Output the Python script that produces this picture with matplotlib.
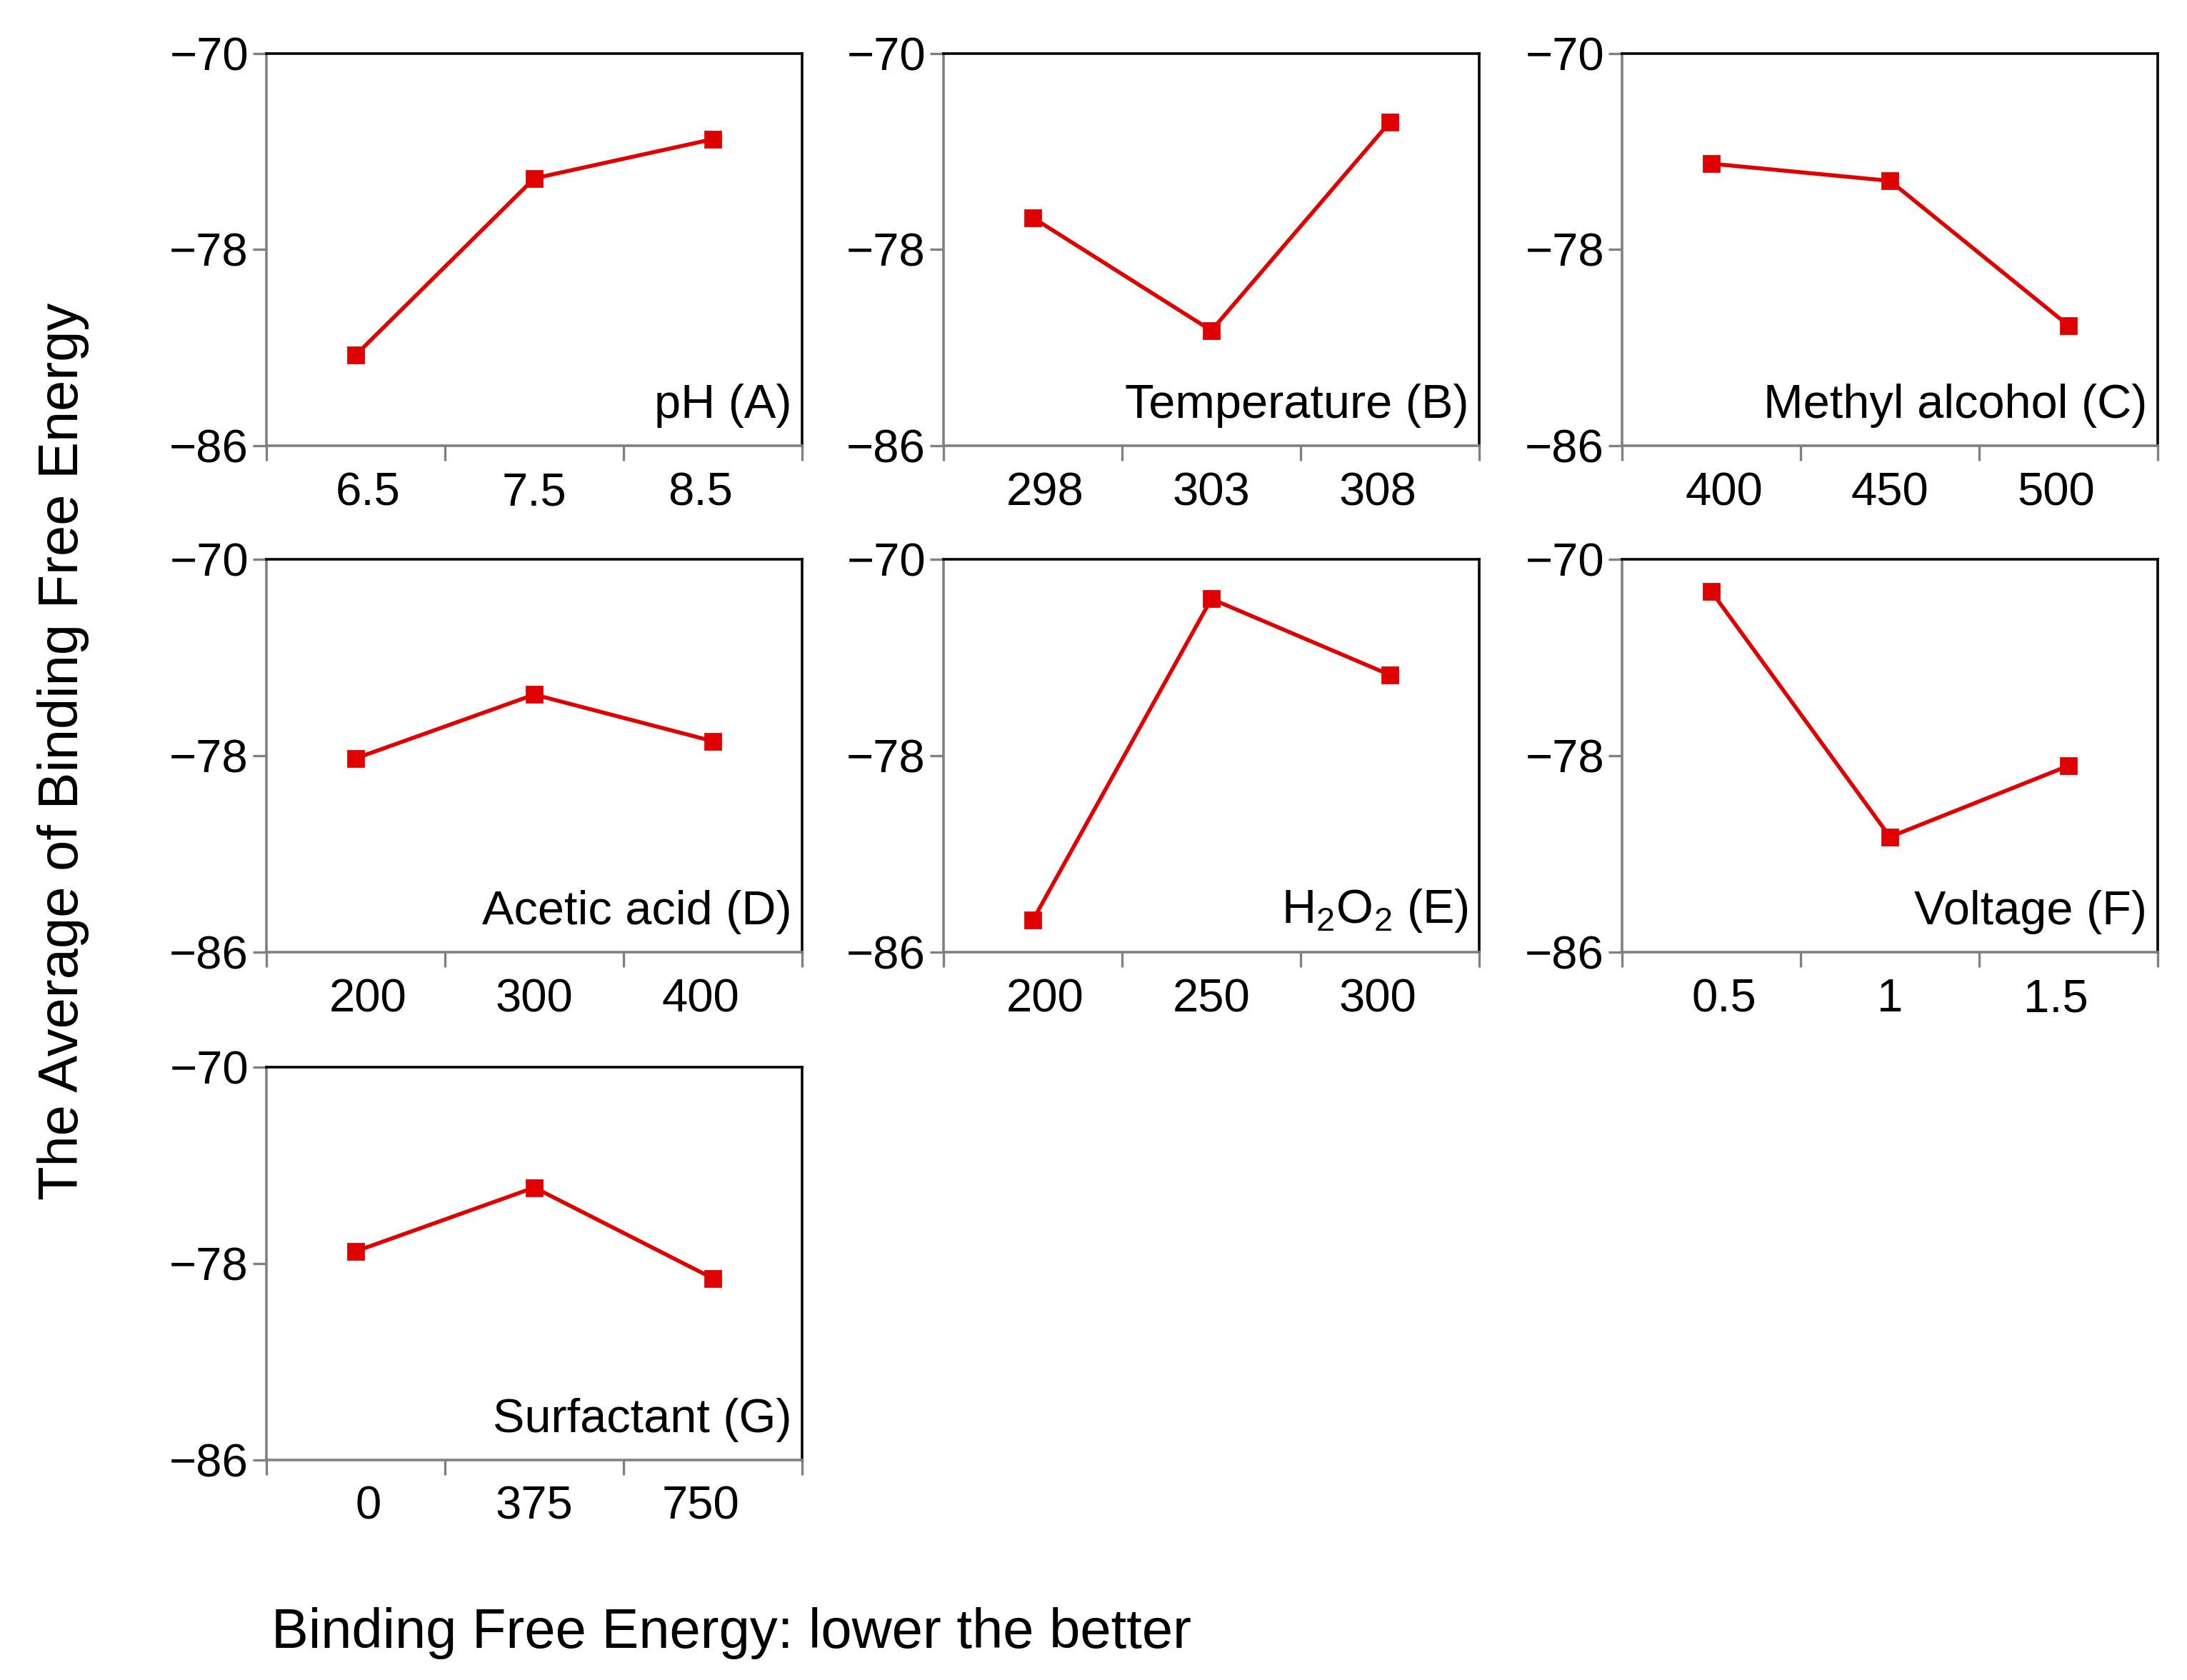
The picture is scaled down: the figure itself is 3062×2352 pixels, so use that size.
import numpy as np
import matplotlib.pyplot as plt

plt.rcParams['font.family'] = ['Liberation Sans', 'DejaVu Sans']
plt.rcParams['mathtext.fontset'] = 'custom'
plt.rcParams['mathtext.rm'] = 'Liberation Sans'

# factor names and levels
factors = ['pH (A)', 'Temperature (B)', 'Methyl alcohol (C)', 'Acetic acid (D)',
           r'H$_2$O$_2$ (E)', 'Voltage (F)', 'Surfactant (G)']
levels = [['6.5', '7.5', '8.5'],
          ['298', '303', '308'],
          ['400', '450', '500'],
          ['200', '300', '400'],
          ['200', '250', '300'],
          ['0.5', '1', '1.5'],
          ['0', '375', '750']]
# average binding free energy at each level
energies = [[-82.3, -75.1, -73.5],
            [-76.7, -81.3, -72.8],
            [-74.5, -75.2, -81.1],
            [-78.1, -75.5, -77.4],
            [-84.7, -71.6, -74.7],
            [-71.3, -81.3, -78.4],
            [-77.5, -74.9, -78.6]]
yticks = [-86, -78, -70]

fig = plt.figure(figsize=(15.31, 11.76), dpi=200)

lefts = [0.1218, 0.4314, 0.7417]
bottoms = [0.7346, 0.4332, 0.131]
w, h = 0.2450, 0.2337
red = '#e00000'
grey = '#808080'

for i in range(len(factors)):
    r, c = divmod(i, 3)
    ax = fig.add_axes([lefts[c], bottoms[r], w, h])
    x = np.arange(1, 4)
    ax.plot(x, energies[i], color=red, lw=2.0, marker='s', ms=8, mec=red, mfc=red)
    ax.set_xlim(0.5, 3.5)
    ax.set_ylim(-86, -70)

    # boundary ticks without labels, labels between them
    ax.set_xticks([0.5, 1.5, 2.5, 3.5])
    ax.set_xticklabels([])
    ax.set_xticks(x + np.array([0.07, 0, -0.07]), minor=True)
    ax.set_xticklabels(levels[i], minor=True, fontsize=23.5)
    ax.tick_params(axis='x', which='minor', length=0, pad=13)
    ax.tick_params(axis='x', which='major', length=7.5, width=1.2, color=grey)

    ax.set_yticks(yticks)
    ax.set_yticklabels(['\u221286', '\u221278', '\u221270'], fontsize=23.5)
    ax.tick_params(axis='y', length=7, width=1.2, color=grey, pad=2)

    ax.spines['left'].set_color(grey)
    ax.spines['bottom'].set_color(grey)
    ax.spines['top'].set_color('black')
    ax.spines['right'].set_color('black')
    for s in ax.spines.values():
        s.set_linewidth(1.3)

    ax.text(0.98, 0.045, factors[i], transform=ax.transAxes, ha='right', va='bottom',
            fontsize=24)

fig.text(0.029, 0.553, 'The Average of Binding Free Energy', rotation=90,
         ha='center', va='center', fontsize=28)
fig.text(0.124, 0.028, 'Binding Free Energy: lower the better', ha='left',
         va='center', fontsize=28)

fig.savefig('out.png', dpi=200)
